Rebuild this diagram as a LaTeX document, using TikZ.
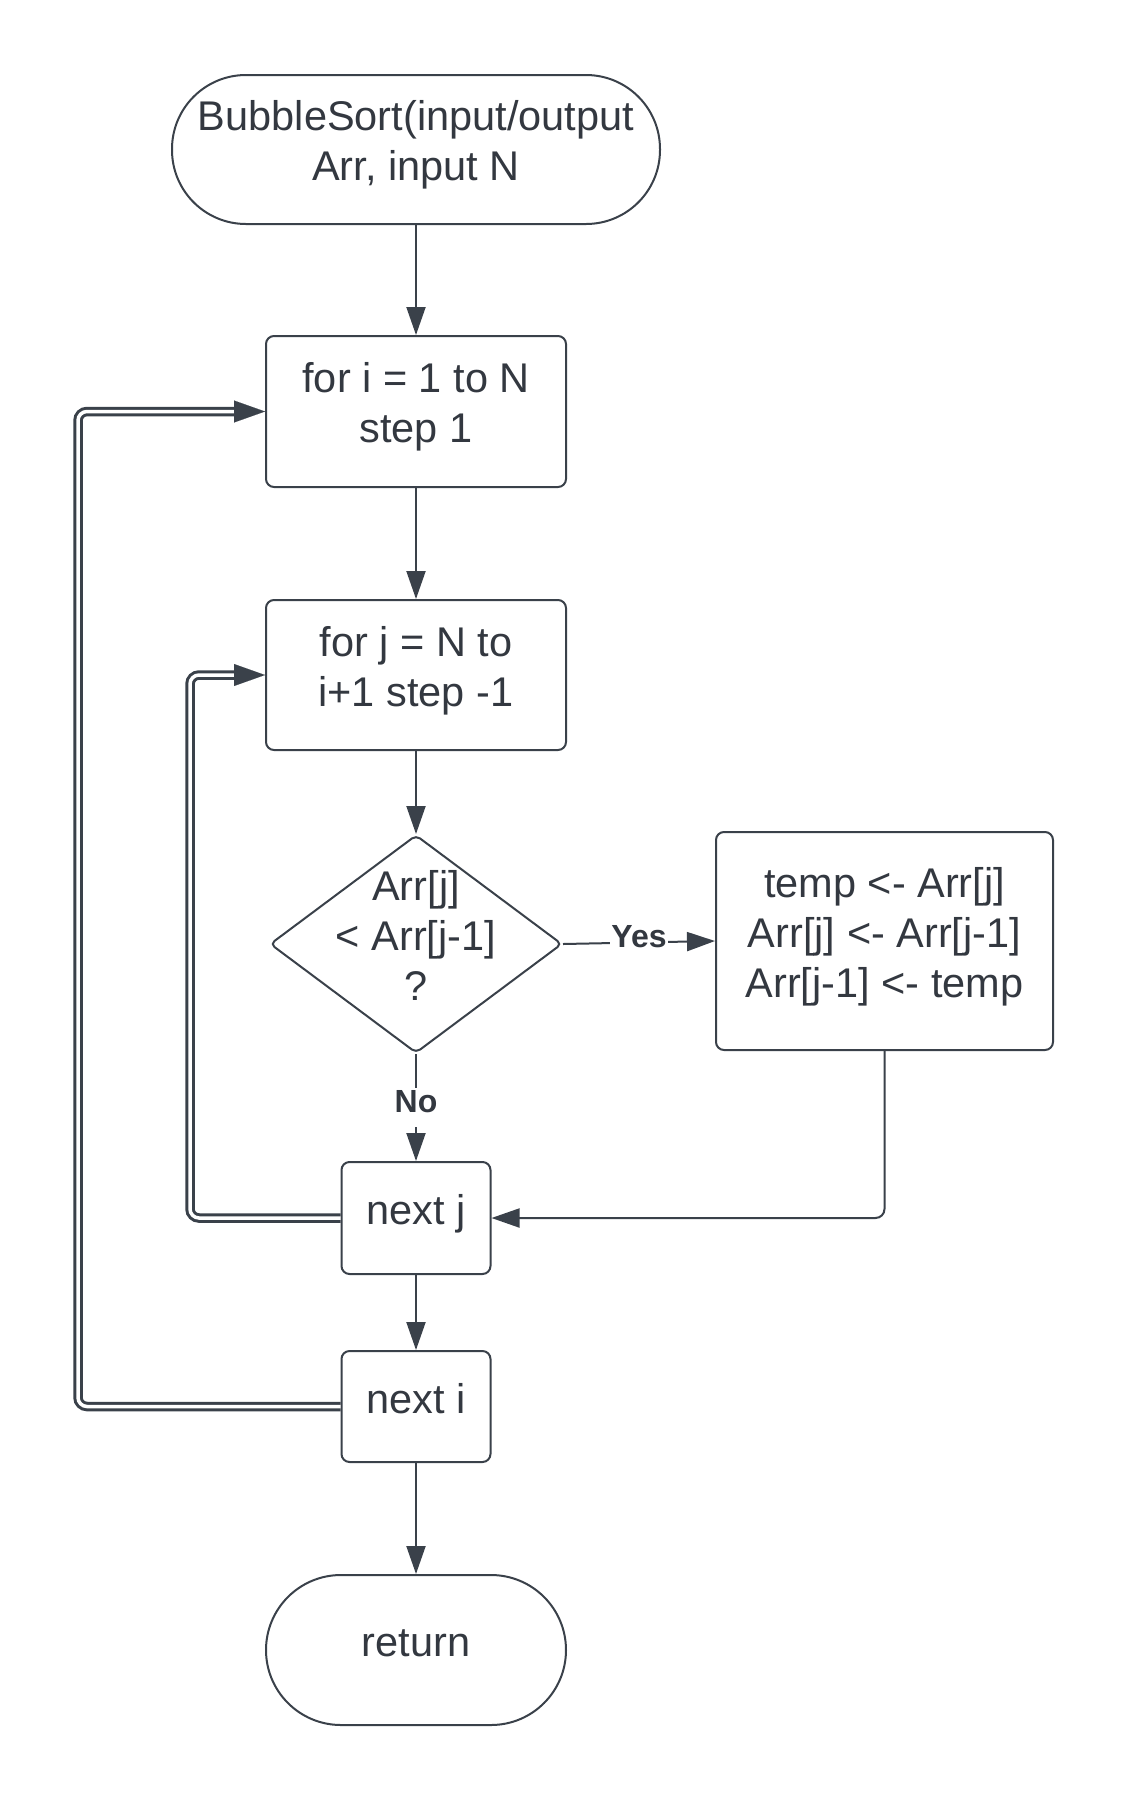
\documentclass[tikz,border=0pt]{standalone}
\usepackage{fontspec}
\setmainfont{Liberation Sans}
\usetikzlibrary{shapes.geometric,arrows.meta}
\definecolor{ink}{HTML}{3A414A}
\definecolor{txt}{HTML}{333840}
\begin{document}
\begin{tikzpicture}[x=1pt,y=-1pt,
  every node/.style={text=txt},
  % extra depth below the last line lifts the text a little in its box
  lines/.style={execute at begin node={\rule{0pt}{0.75em}},
    execute at end node={\rule[-0.42em]{0pt}{0.42em}}},
  base/.style={draw=ink, line width=2pt, align=center, lines,
    font=\fontsize{41.5}{50}\selectfont},
  box/.style={base, rectangle, rounded corners=8pt, inner sep=0pt},
  term/.style={base, rectangle, inner sep=0pt},
  decision/.style={draw=ink, line width=2pt, diamond, inner sep=0pt, rounded corners=5pt},
  flow/.style={draw=ink, line width=2pt, -{Triangle[length=28pt,width=19pt]}},
  loop/.style={draw=ink, line width=3pt, double=white, double distance=3.5pt,
    rounded corners=9pt, shorten >=24pt},
  looptip/.style={draw=ink, line width=0.1pt, -{Triangle[length=31pt,width=22pt]}},
  tag/.style={fill=white, inner sep=1pt, lines, font=\fontsize{32}{36}\selectfont\bfseries}
]
\useasboundingbox (0,0) rectangle (1129,1800);

% nodes of the flowchart
\node[term, rounded corners=74pt, minimum width=488pt, minimum height=149pt]
  (start) at (416,149.5) {BubbleSort(input/output\\Arr, input N};
\node[box, minimum width=300pt, minimum height=151pt] (fori) at (416,411.5)
  {for i = 1 to N\\step 1};
\node[box, minimum width=300pt, minimum height=150pt] (forj) at (416,675)
  {for j = N to\\i+1 step -1};
\node[decision, minimum width=292pt, minimum height=218pt] (cmp) at (416,944) {};
\node[align=center, lines, font=\fontsize{41.5}{50}\selectfont] (cmptext) at (cmp.center)
  {Arr[j]\\< Arr[j-1]\\?};
\node[box, minimum width=337pt, minimum height=218pt] (swap) at (884.5,941)
  {temp <- Arr[j]\\Arr[j] <- Arr[j-1]\\Arr[j-1] <- temp};
\node[box, minimum width=149pt, minimum height=112pt] (nextj) at (416,1218) {next j};
\node[box, minimum width=149pt, minimum height=111pt] (nexti) at (416,1406.5) {next i};
\node[term, rounded corners=75pt, minimum width=300pt, minimum height=150pt]
  (ret) at (416,1650) {return};

% columns of the two loop-back lines
\coordinate (jcol) at (190,0);
\coordinate (icol) at (78,0);

% connectors
\draw[flow] (start) -- (fori);
\draw[flow] (fori) -- (forj);
\draw[flow] (forj) -- (cmp);
\draw[flow] (cmp.east) -- node[tag] {Yes} (swap.west);
\draw[flow] (cmp.south) -- node[tag] {No} (nextj.north);
\draw[flow, rounded corners=9pt] (swap.south) |- (nextj.east);
\draw[flow] (nextj) -- (nexti);
\draw[flow] (nexti) -- (ret);

% loop-back lines (double) with their arrow tips
\draw[loop] (nextj.west) -| (jcol |- forj.west) -- (forj.west);
\draw[looptip] ([xshift=-31pt]forj.west) -- (forj.west);
\draw[loop] (nexti.west) -| (icol |- fori.west) -- (fori.west);
\draw[looptip] ([xshift=-31pt]fori.west) -- (fori.west);
\end{tikzpicture}
\end{document}
